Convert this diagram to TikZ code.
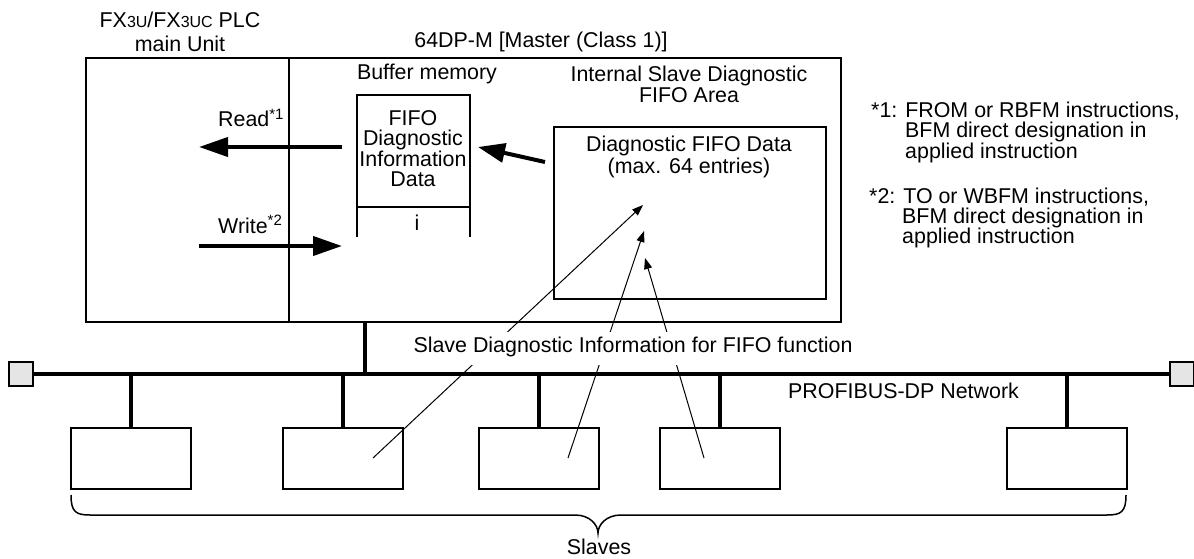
\documentclass[tikz,border=0pt]{standalone}
\usepackage{fontspec}
\setmainfont{Liberation Sans}
\usetikzlibrary{arrows.meta}
\newcommand{\smfont}{\fontsize{16}{16}\selectfont}
\begin{document}
\begin{tikzpicture}[x=1pt,y=-1pt,
  font=\fontsize{21.4}{20}\selectfont,
  box/.style={draw, line width=2pt, inner sep=0pt, anchor=north west},
  slave/.style={draw, line width=1.5pt, minimum width=120pt, minimum height=61pt, inner sep=0pt, anchor=north west},
  lbl/.style={anchor=base, inner sep=0pt},
  lbll/.style={anchor=base west, inner sep=0pt},
  bigarrow/.style={line width=4pt, -{Triangle[length=29pt,width=19pt]}},
  thinarrow/.style={line width=1pt, -{Triangle[length=11pt,width=8pt]}},
  bus/.style={line width=3.5pt},
  stub/.style={line width=4pt},
  term/.style={draw, line width=1.5pt, fill=gray!20, minimum size=24pt, inner sep=0pt}
]
\useasboundingbox (0,0) rectangle (1194,559);

% main boxes
\node[box, minimum width=203pt, minimum height=264pt] (plc) at (85,57) {};
\node[box, minimum width=552pt, minimum height=264pt] (master) at (288,57) {};
\node[box, minimum width=272pt, minimum height=172pt] (fifo) at (553,126) {};

% buffer memory box (open at the bottom)
\coordinate (bbl) at (357,237);
\coordinate (btl) at (357,95);
\coordinate (btr) at (470,95);
\coordinate (bbr) at (470,237);
\coordinate (bdl) at (357,207);
\coordinate (bdr) at (470,207);
\draw[line width=2pt] (bbl) -- (btl) -- (btr) -- (bbr);
\draw[line width=2pt] (bdl) -- (bdr);

% titles
\node[lbl] (plct1) at (180,28) {FX{\smfont 3U}/FX{\smfont 3UC} PLC};
\node[lbl] (plct2) at (180,52) {main Unit};
\node[lbl] (mt) at (541,48) {64DP-M [Master (Class 1)]};
\node[lbl] (bmt) at (427,80) {Buffer memory};
\node[lbl] (isd1) at (689,82) {Internal Slave Diagnostic};
\node[lbl] (isd2) at (689,103) {FIFO Area};
\node[lbl] (dfd1) at (689,151) {Diagnostic FIFO Data};
\node[lbl] (dfd2) at (689,173) {(max. 64 entries)};
\node[lbl] (fb1) at (413,126) {FIFO};
\node[lbl] (fb2) at (413,146) {Diagnostic};
\node[lbl] (fb3) at (413,166) {Information};
\node[lbl] (fb4) at (413,186) {Data};
\node[lbl] (dots) at (417,230) {i};

% read / write
\node[lbll] (rdl) at (218,127) {Read\textsuperscript{*1}};
\node[lbll] (wrl) at (218,233) {Write\textsuperscript{*2}};
\coordinate (rs) at (342,147);
\coordinate (re) at (199,147);
\coordinate (ws) at (199,246);
\coordinate (we) at (342,246);
\draw[bigarrow] (rs) -- (re);
\draw[bigarrow] (ws) -- (we);
\coordinate (fs) at (545,162);
\coordinate (fe) at (478,147);
\draw[line width=4pt, -{Triangle[length=27pt,width=19pt]}] (fs) -- (fe);

% footnotes
\node[lbll] (n1a) at (871,118) {*1: FROM or RBFM instructions,};
\node[lbll] (n1b) at (905,138) {BFM direct designation in};
\node[lbll] (n1c) at (905,158) {applied instruction};
\node[lbll] (n2a) at (869,203) {*2: TO or WBFM instructions,};
\node[lbll] (n2b) at (902,223) {BFM direct designation in};
\node[lbll] (n2c) at (902,243) {applied instruction};

% bus
\node[term] (tl) at (21,374) {};
\node[term] (tr) at (1182,374) {};
\draw[bus] (tl.east) -- (tr.west);
\coordinate (mdrop) at (365,321);
\draw[stub] (mdrop) -- (mdrop |- tl.center);
\node[lbll] (pn) at (788,398) {PROFIBUS-DP Network};

% slaves
\node[slave] (s1) at (70,427) {};
\node[slave] (s2) at (282,427) {};
\node[slave] (s3) at (478,427) {};
\node[slave] (s4) at (659,427) {};
\node[slave] (s5) at (1006,427) {};
\foreach \s in {s1,s2,s3,s4,s5}{
  \draw[stub] (\s.north) -- (\s.north |- tl.center);
}

% diagnostic arrows
\coordinate (a2) at (373,458);
\coordinate (a3) at (568,458);
\coordinate (a4) at (704,458);
\coordinate (t2) at (643,205);
\coordinate (t3) at (644,231);
\coordinate (t4) at (645,258);
\draw[thinarrow] (a2) -- (t2);
\draw[thinarrow] (a3) -- (t3);
\draw[thinarrow] (a4) -- (t4);
\node[anchor=base, fill=white, inner sep=0pt, text height=20pt, text depth=13pt] (sdi) at (633,352) {Slave Diagnostic Information for FIFO function};

% brace
\draw[line width=1.5pt] (71,495) .. controls (71,512) and (76,515) .. (90,515) -- (575,515)
  .. controls (590,515) and (598,525) .. (598,533)
  .. controls (598,525) and (606,515) .. (621,515) -- (1107,515)
  .. controls (1121,515) and (1126,512) .. (1126,495);
\node[lbl] (sl) at (599,554) {Slaves};
\end{tikzpicture}
\end{document}
